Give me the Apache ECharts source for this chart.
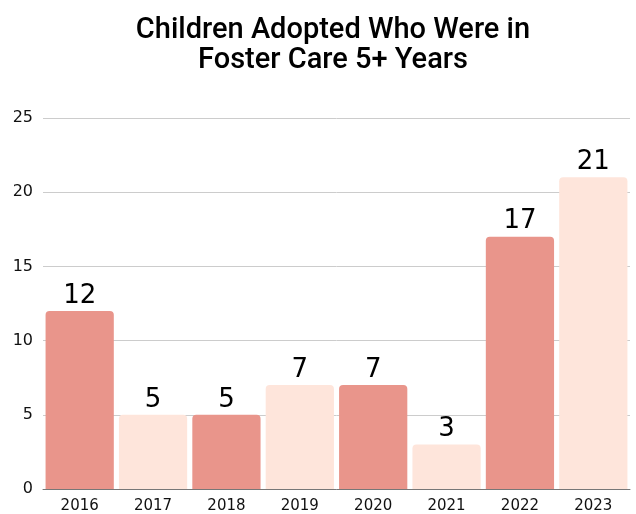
<!DOCTYPE html>
<html><head><meta charset="utf-8">
<script src="https://cdn.jsdelivr.net/npm/echarts@6/dist/echarts.min.js"></script>
<style>html,body{margin:0;padding:0;background:#fff}#c{width:636px;height:514px}</style>
</head><body><div id="c"></div>
<script>
const categories = ['2016','2017','2018','2019','2020','2021','2022','2023'];
const values = [12,5,5,7,7,3,17,21];
const yTicks = [0,5,10,15,20,25];
const titleLines = ['Children Adopted Who Were in','Foster Care 5+ Years'];
const dark = '#E9958B', light = '#FEE5DB';
const chart = echarts.init(document.getElementById('c'));
chart.setOption({
  backgroundColor:'#fff',
  animation:false,
  title:{text:titleLines.join('\n'),left:328,textAlign:'center',top:11,
    textStyle:{fontFamily:'Roboto',fontWeight:500,fontSize:29,lineHeight:30,color:'#000'}},
  grid:{left:43,right:6,top:118,bottom:25},
  xAxis:{type:'category',data:categories,
    axisLine:{lineStyle:{color:'#777',width:1}},axisTick:{show:false},
    axisLabel:{color:'#111',fontSize:15,fontFamily:'DejaVu Sans',margin:10}},
  yAxis:{type:'value',min:yTicks[0],max:yTicks[yTicks.length-1],interval:5,
    axisLine:{show:false},axisTick:{show:false},
    splitLine:{lineStyle:{color:'#ccc',width:1}},
    axisLabel:{color:'#111',fontSize:16,fontFamily:'DejaVu Sans',margin:10}},
  series:[{type:'bar',barCategoryGap:'7%',
    data:values.map((v,i)=>({value:v,itemStyle:{color:i%2===0?dark:light}})),
    itemStyle:{borderRadius:[4,4,0,0]},
    label:{show:true,position:'top',distance:2,color:'#000',fontSize:26,fontFamily:'DejaVu Sans'}}]
});
</script></body></html>
